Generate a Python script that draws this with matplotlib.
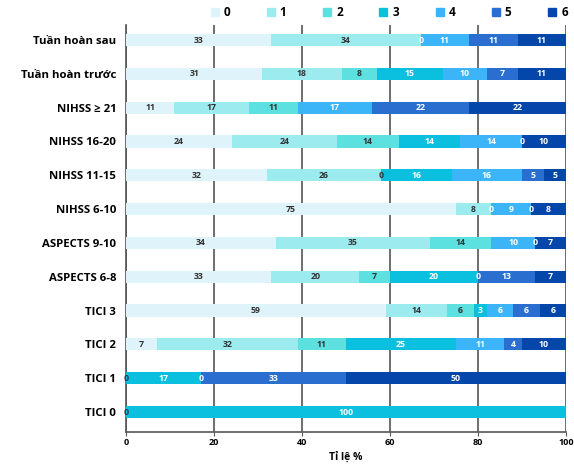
import numpy as np
import matplotlib
matplotlib.use("Agg")
import matplotlib.pyplot as plt
from matplotlib.lines import Line2D

plt.rcParams['font.family'] = ['Open Sans', 'DejaVu Sans']

# nhom (tu tren xuong duoi)
nhom = ["Tuần hoàn sau", "Tuần hoàn trước", "NIHSS ≥ 21", "NIHSS 16-20",
        "NIHSS 11-15", "NIHSS 6-10", "ASPECTS 9-10", "ASPECTS 6-8",
        "TICI 3", "TICI 2", "TICI 1", "TICI 0"]

# ti le % theo mRS 0..6 (nan = khong co)
nan = np.nan
mrs0 = [33, 31, 11, 24, 32, 75, 34, 33, 59, 7, 0, nan]
mrs1 = [34, 18, 17, 24, 26, 8, 35, 20, 14, 32, nan, nan]
mrs2 = [nan, 8, 11, 14, 0, nan, 14, 7, 6, 11, nan, 0]
mrs3 = [0, 15, nan, 14, 16, 0, nan, 20, 3, 25, 17, 100]
mrs4 = [11, 10, 17, 14, 16, 9, 10, 0, 6, 11, 0, nan]
mrs5 = [11, 7, 22, 0, 5, 0, 0, 13, 6, 4, 33, nan]
mrs6 = [11, 11, 22, 10, 5, 8, 7, 7, 6, 10, 50, nan]

nhan = ["0", "1", "2", "3", "4", "5", "6"]
mau = ["#DFF3FA", "#9BEBEF", "#5DE0E0", "#0BC0DF",
       "#3BB5F7", "#2A6FD0", "#0546AA"]
mau_chu = ["#333333", "#333333", "#333333", "white", "white", "white", "white"]

du_lieu = [mrs0, mrs1, mrs2, mrs3, mrs4, mrs5, mrs6]

fig = plt.figure(figsize=(5.74, 4.66), dpi=100)
ax = fig.add_axes([0.2195, 0.073, 0.7665, 0.873])

y = np.arange(len(nhom))[::-1]
trai = np.zeros(len(nhom))

for k, gia_tri in enumerate(du_lieu):
    v = np.array(gia_tri, dtype=float)
    w = np.nan_to_num(v)
    ax.barh(y, w, left=trai, height=0.36, color=mau[k], zorder=3)
    for i in range(len(nhom)):
        if not np.isnan(v[i]):
            ax.text(trai[i] + w[i] / 2, y[i], f"{int(v[i])}",
                    ha="center", va="center", fontsize=6.3,
                    fontweight="bold", color=mau_chu[k], zorder=4)
    trai = trai + w

ax.set_xlim(0, 100)
ax.set_ylim(-0.59, len(nhom) - 1 + 0.44)
ax.set_yticks(y)
ax.set_yticklabels(nhom, fontsize=8.2, fontweight="bold")
ax.tick_params(axis="y", length=0, pad=7)
ax.set_xticks([0, 20, 40, 60, 80, 100])
ax.set_xticklabels(["0", "20", "40", "60", "80", "100"],
                   fontsize=6.5, fontweight="bold")
ax.tick_params(axis="x", length=3, color="#555555", pad=1.5)
ax.xaxis.grid(True, color="#555555", linewidth=1.2, zorder=0)
ax.set_xlabel("Tỉ lệ %", fontsize=7.5, fontweight="bold", labelpad=3)

for s in ["top", "right"]:
    ax.spines[s].set_visible(False)
ax.spines["left"].set_color("#555555")
ax.spines["left"].set_linewidth(1.2)
ax.spines["bottom"].set_color("#555555")
ax.spines["bottom"].set_linewidth(1.2)

# chu thich
tay_cam = [Line2D([], [], marker="s", linestyle="", markersize=5.5,
                  markerfacecolor=c, markeredgecolor=c) for c in mau]
fig.legend(tay_cam, nhan, loc="center", bbox_to_anchor=(0.678, 0.973),
           ncol=7, frameon=False, columnspacing=3.1, handletextpad=0.4,
           handlelength=0.7, prop={"weight": "bold", "size": 8.5})

fig.savefig("out.png", dpi=100)
